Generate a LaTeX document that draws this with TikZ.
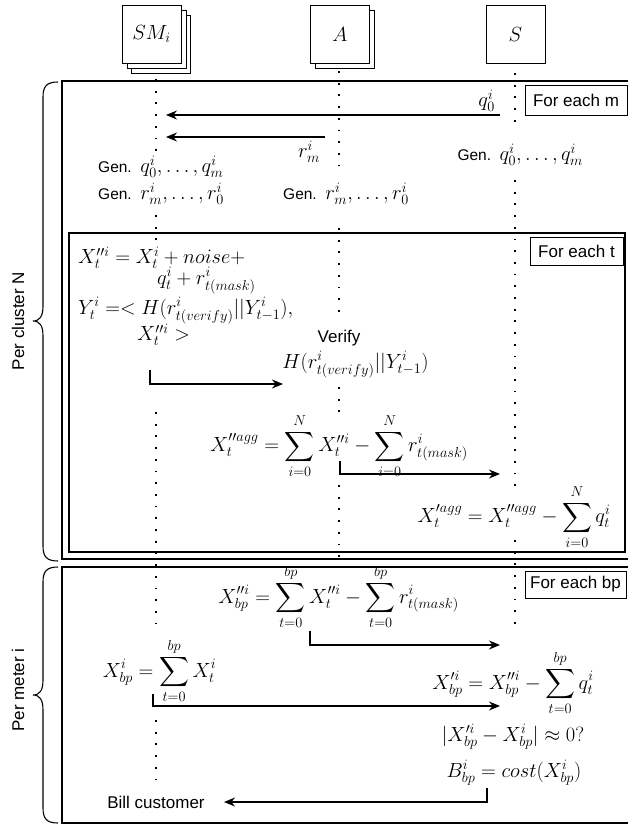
\RequirePackage{fix-cm}
\documentclass[tikz,border=0pt]{standalone}
\usepackage{amsmath}
\usepackage{fontspec}
\setmainfont{Liberation Sans}
\usetikzlibrary{arrows.meta}
\newcommand\MM[1]{{\fontsize{20.5}{24}\selectfont$#1$}}
\tikzset{
  lbox/.style={draw, line width=1pt, fill=white, minimum width=59pt, minimum height=58pt, inner sep=0pt},
  life/.style={line width=1.8pt, dash pattern=on 1.8pt off 9.9pt},
  msg/.style={line width=1.3pt, -{Stealth[length=11pt,width=9pt]}},
  frame/.style={line width=1.2pt},
  tag/.style={draw, line width=1pt, fill=white, font=\fontsize{17}{20}\selectfont, inner sep=0pt},
  txt/.style={font=\fontsize{17}{20}\selectfont, inner sep=0pt},
  gtxt/.style={font=\fontsize{15.5}{19}\selectfont, inner sep=0pt},
  mth/.style={font=\fontsize{20.5}{24}\selectfont, inner sep=0pt},
}
\begin{document}
\begin{tikzpicture}[x=1pt,y=-1pt]
\useasboundingbox (0,0) rectangle (628,825);
% frames
\draw[frame] (640,81) -- (62,81) -- (62,559) -- (640,559);
\draw[frame] (69,233) rectangle (625,552);
\draw[frame] (640,567) -- (62,567) -- (62,823) -- (640,823);
% braces
\draw[line width=1.1pt] (58,82) .. controls (47,82) and (43,86) .. (43,97) -- (43,306)
  .. controls (43,316) and (40,321) .. (33,321) .. controls (40,321) and (43,326) .. (43,336)
  -- (43,546) .. controls (43,557) and (47,561) .. (58,561);
\draw[line width=1.1pt] (58,567) .. controls (47,567) and (43,571) .. (43,582) -- (43,680)
  .. controls (43,690) and (40,695) .. (33,695) .. controls (40,695) and (43,700) .. (43,710)
  -- (43,808) .. controls (43,819) and (47,823) .. (58,823);
\node[txt, rotate=90] (pcl) at (18,321) {Per cluster N};
\node[txt, rotate=90] (pme) at (18,690) {Per meter i};
% lifeline heads
\node[lbox] (smb2) at (160.5,44) {};
\node[lbox] (smb1) at (156.5,39) {};
\node[lbox] (sm) at (151.5,34) {\MM{SM_i}};
\node[lbox] (ab1) at (345,39) {};
\node[lbox] (a) at (340,34) {\MM{A}};
\node[lbox] (s) at (515.5,34) {\MM{S}};
% lifelines
\draw[life] (156,79) -- (156,152);
\draw[life] (156,215) -- (156,240);
\draw[life] (156,412) -- (156,624);
\draw[life] (156,720) -- (156,782);
\draw[life] (339,71) -- (339,165);
\draw[life] (339,228) -- (339,312);
\draw[life] (339,387) -- (339,415);
\draw[life] (339,485) -- (339,566);
\draw[life] (515,73) -- (515,122);
\draw[life] (515,180) -- (515,487);
\draw[life] (515,540) -- (515,625);
% tags
\node[tag, minimum width=102pt, minimum height=30pt] (tm) at (576,100) {For each m};
\node[tag, minimum width=93pt, minimum height=28pt] (tt) at (576.5,251) {For each t};
\node[tag, minimum width=101pt, minimum height=27pt] (tb) at (575.5,584.5) {For each bp};
% first box
\node[mth, anchor=south east] (q0) at (495,112) {$q_0^i$};
\node[mth] (rm) at (309,152) {$r_m^i$};
\coordinate (q0s) at (500,115); \coordinate (q0e) at (166,115);
\coordinate (rms) at (325,137); \coordinate (rme) at (166,137);
\draw[msg] (q0s) -- (q0e);
\draw[msg] (rms) -- (rme);
\node[gtxt, anchor=east] (gens) at (583,155) {Gen.\ \ \MM{q_0^i,\ldots,q_m^i}};
\node[gtxt, anchor=west] (gensq) at (98,167) {Gen.\ \ \MM{q_0^i,\ldots,q_m^i}};
\node[gtxt, anchor=west] (gensr) at (98,194) {Gen.\ \ \MM{r_m^i,\ldots,r_0^i}};
\node[gtxt, anchor=west] (genar) at (283,194) {Gen.\ \ \MM{r_m^i,\ldots,r_0^i}};
% inner box
\node[mth, anchor=west] (l1) at (78,258) {$X_t^{\prime\prime i}=X_t^i+noise+$};
\node[mth, anchor=west] (l2) at (157,281) {$q_t^i+r_{t(mask)}^i$};
\node[mth, anchor=west] (l3) at (78,311) {$Y_t^i=<H(r_{t(verify)}^i||Y_{t-1}^i),$};
\node[mth, anchor=west] (l4) at (137,335) {$X_t^{\prime\prime i}>$};
\node[txt] (ver) at (339,338) {Verify};
\node[mth] (hv) at (355.5,365) {$H(r_{t(verify)}^i||Y_{t-1}^i)$};
\coordinate (a1s) at (150,370); \coordinate (a1m) at (150,384); \coordinate (a1e) at (283,384);
\draw[msg] (a1s) -- (a1m) -- (a1e);
\node[mth] (xagg2) at (339,446) {$\displaystyle X_t^{\prime\prime agg}=\sum_{i=0}^{N}X_t^{\prime\prime i}-\sum_{i=0}^{N}r_{t(mask)}^i$};
\coordinate (a2s) at (340,461); \coordinate (a2m) at (340,474); \coordinate (a2e) at (500,474);
\draw[msg] (a2s) -- (a2m) -- (a2e);
\node[mth] (xagg1) at (514,517) {$\displaystyle X_t^{\prime agg}=X_t^{\prime\prime agg}-\sum_{i=0}^{N}q_t^i$};
% second box
\node[mth] (xbp2) at (338.5,597) {$\displaystyle X_{bp}^{\prime\prime i}=\sum_{t=0}^{bp}X_t^{\prime\prime i}-\sum_{t=0}^{bp}r_{t(mask)}^i$};
\coordinate (a3s) at (310,631); \coordinate (a3m) at (310,645); \coordinate (a3e) at (500,645);
\draw[msg] (a3s) -- (a3m) -- (a3e);
\node[mth] (xbp) at (159.5,671) {$\displaystyle X_{bp}^{i}=\sum_{t=0}^{bp}X_t^{i}$};
\node[mth] (xbp1) at (513,683) {$\displaystyle X_{bp}^{\prime i}=X_{bp}^{\prime\prime i}-\sum_{t=0}^{bp}q_t^i$};
\coordinate (a4s) at (153,694); \coordinate (a4m) at (153,706); \coordinate (a4e) at (500,706);
\draw[msg] (a4s) -- (a4m) -- (a4e);
\node[mth] (chk) at (513,737) {$|X_{bp}^{\prime i}-X_{bp}^{i}|\approx0?$};
\node[mth] (bill) at (514,773) {$B_{bp}^i=cost(X_{bp}^i)$};
\node[txt] (bc) at (156,802) {Bill customer};
\coordinate (a5s) at (487,788); \coordinate (a5m) at (487,802); \coordinate (a5e) at (224,802);
\draw[msg] (a5s) -- (a5m) -- (a5e);
\end{tikzpicture}
\end{document}
